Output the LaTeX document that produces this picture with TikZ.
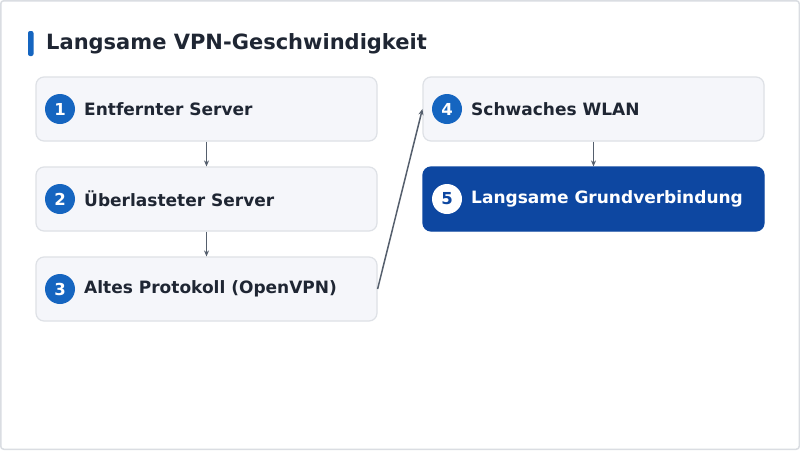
\documentclass[tikz,border=0pt]{standalone}
\usepackage{fontspec}
\setmainfont{DejaVu Sans}
\usetikzlibrary{arrows.meta}
\definecolor{boxfill}{HTML}{F5F6FA}
\definecolor{boxline}{HTML}{DEE1E6}
\definecolor{accent}{HTML}{1565C0}
\definecolor{darkblue}{HTML}{0D47A1}
\definecolor{txt}{HTML}{1F2633}
\definecolor{arr}{HTML}{555F6D}
\definecolor{frame}{HTML}{DADDE2}
\tikzset{
  stepbox/.style={draw=boxline, line width=1.2pt, fill=boxfill, rounded corners=8pt, minimum width=341pt, minimum height=64pt, inner sep=0pt},
  hotbox/.style={draw=darkblue, line width=1.2pt, fill=darkblue, rounded corners=8pt, minimum width=341pt, minimum height=64pt, inner sep=0pt},
  badge/.style={circle, fill=accent, minimum size=30pt, inner sep=0pt, text=white, font=\bfseries\fontsize{16.5}{16.5}\selectfont},
  badgew/.style={circle, fill=white, minimum size=30pt, inner sep=0pt, text=darkblue, font=\bfseries\fontsize{16.5}{16.5}\selectfont},
  lbl/.style={anchor=west, inner sep=0pt, text=txt, font=\bfseries\fontsize{17}{20}\selectfont},
  lblw/.style={anchor=west, inner sep=0pt, text=white, font=\bfseries\fontsize{17}{20}\selectfont},
  conn/.style={draw=arr, line width=1.5pt, -{Stealth[length=6pt,width=5pt]}}
}
\begin{document}
\begin{tikzpicture}[x=1pt,y=-1pt]
\useasboundingbox (0,0) rectangle (800,450);
\draw[frame, line width=1.5pt, fill=white, rounded corners=3pt] (0.75,0.75) rectangle (799.25,449.25);
\fill[accent, rounded corners=2pt] (28,31) rectangle (33.5,56);
\node[anchor=west, inner sep=0pt, text=txt, font=\bfseries\fontsize{21}{25}\selectfont] (title) at (46,44) {Langsame VPN-Geschwindigkeit};

\node[stepbox] (b1) at (206.5,109) {};
\node[stepbox] (b2) at (206.5,199) {};
\node[stepbox] (b3) at (206.5,289) {};
\node[stepbox] (b4) at (593.5,109) {};
\node[hotbox] (b5) at (593.5,199) {};

\node[badge] (c1) at (60,109) {1};
\node[badge] (c2) at (60,199) {2};
\node[badge] (c3) at (60,289) {3};
\node[badge] (c4) at (447,109) {4};
\node[badgew] (c5) at (447,199) {5};

\node[lbl] (t1) at (84,109) {Entfernter Server};
\node[lbl] (t2) at (84,199) {Überlasteter Server};
\node[lbl] (t3) at (84,289) {Altes Protokoll (OpenVPN)};
\node[lbl] (t4) at (471,109) {Schwaches WLAN};
\node[lblw] (t5) at (471,199) {Langsame Grundverbindung};

\draw[conn] (b1.south) -- (b2.north);
\draw[conn] (b2.south) -- (b3.north);
\draw[conn] (b3.east) -- (b4.west);
\draw[conn] (b4.south) -- (b5.north);
\end{tikzpicture}
\end{document}
